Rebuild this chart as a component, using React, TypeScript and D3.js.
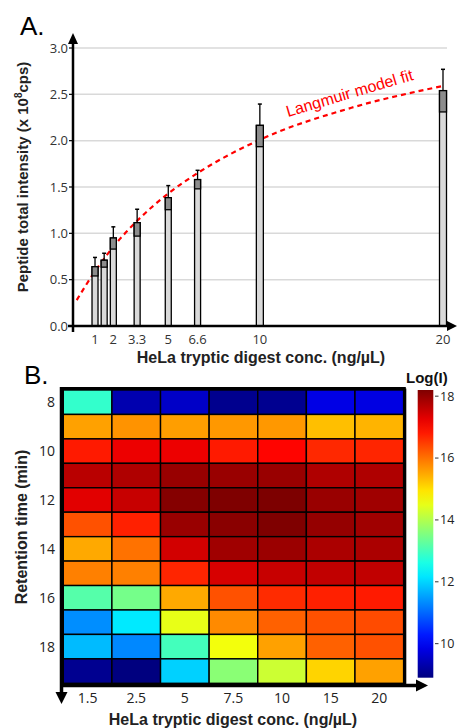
import React from 'react';
import * as d3 from 'd3';

// ---- Panel A data ----
const barConc = [1, 1.5, 2, 3.3, 5, 6.6, 10, 20];
const barMean = [0.64, 0.71, 0.95, 1.115, 1.385, 1.58, 2.165, 2.54];
const barErr = [0.1, 0.075, 0.12, 0.145, 0.13, 0.1, 0.23, 0.23];
const xTickVals = [1, 2, 3.3, 5, 6.6, 10, 20];
const xTickLabels = ['1', '2', '3.3', '5', '6.6', '10', '20'];
const yTickVals = [0, 0.5, 1, 1.5, 2, 2.5, 3];
const fitConc = [0, 1, 2, 3.3, 5, 6.6, 10, 15, 20];
const fitVal = [0.28, 0.59, 0.855, 1.135, 1.43, 1.65, 2.01, 2.355, 2.59];

// ---- Panel B data ----
const heatConc = ['1.5', '2.5', '5', '7.5', '10', '15', '20'];
const retTimes = [8, 9, 10, 11, 12, 13, 14, 15, 16, 17, 18, 19];
const retTickLabels = [8, 10, 12, 14, 16, 18];
const heatVals = [
  [12.85, 9.34, 9.55, 9.04, 9.05, 9.83, 9.8],
  [15.57, 15.7, 15.6, 15.65, 15.65, 15.3, 15.4],
  [16.8, 17.2, 17.2, 16.8, 17.0, 16.67, 16.7],
  [17.67, 17.76, 17.97, 17.96, 17.96, 17.76, 17.76],
  [17.3, 17.55, 18.15, 18.2, 18.22, 17.96, 17.9],
  [16.3, 16.75, 17.96, 18.1, 18.2, 18.0, 17.9],
  [15.5, 16.0, 17.45, 17.9, 17.95, 17.8, 17.8],
  [15.87, 15.87, 16.7, 17.4, 17.55, 17.6, 17.6],
  [13.16, 13.45, 15.5, 16.3, 16.65, 16.75, 16.8],
  [11.36, 12.2, 14.5, 15.78, 16.15, 16.3, 16.35],
  [11.77, 11.3, 13.0, 14.6, 15.57, 16.15, 16.3],
  [9.05, 8.9, 11.97, 13.65, 14.25, 15.1, 15.57],
];
const cbTicks = [10, 12, 14, 16, 18];
const cbDomain = [8.9, 18.2];

const jetPos = [0, 0.125, 0.375, 0.625, 0.875, 1];
const jetColors = ['#00007f', '#0000ff', '#00ffff', '#ffff00', '#ff0000', '#7f0000'];

const titleFont = 'Liberation Sans, Arial, sans-serif';
const tickFont = 'Open Sans, DejaVu Sans, sans-serif';

export default function App() {
  // Panel A scales
  const xA = d3.scaleLinear().domain([0, 20]).range([76.7, 443]);
  const yA = d3.scaleLinear().domain([0, 3]).range([326, 48]);
  const axX = 73;
  const axY = 326;
  const fitLine = d3
    .line<number>()
    .x((_, i) => xA(fitConc[i]))
    .y((d) => yA(d))
    .curve(d3.curveMonotoneX)(fitVal) as string;

  // Panel B scales
  const xH = d3.scaleBand<string>().domain(heatConc).range([63.3, 403.6]);
  const yH = d3.scaleBand<number>().domain(retTimes).range([390, 683.3]);
  const lo = cbDomain[0];
  const hi = cbDomain[1];
  const color = d3
    .scaleLinear<string>()
    .domain(jetPos.map((t) => lo + t * (hi - lo)))
    .range(jetColors)
    .interpolate(d3.interpolateRgb);
  const yC = d3.scaleLinear().domain(cbDomain).range([677.7, 390]);
  const gradStops = d3.range(0, 1.0001, 0.05);

  const hLeft = 61.5;
  const hTop = 388.5;
  const hRight = 404.8;
  const hBottom = 685.5;

  return (
    <svg
      width={457}
      height={728}
      style={{ position: 'absolute', left: 0, top: 0, background: '#fff' }}
    >
      <defs>
        <linearGradient id="cbGrad" x1="0" y1="1" x2="0" y2="0">
          {gradStops.map((t) => (
            <stop key={t} offset={t} stopColor={color(lo + t * (hi - lo))} />
          ))}
        </linearGradient>
      </defs>

      {/* ===== Panel A ===== */}
      <text x={20} y={35} fontFamily={titleFont} fontSize={26}>A.</text>

      {/* gridlines */}
      {yTickVals.slice(1).map((v) => (
        <line key={v} x1={axX} x2={447} y1={yA(v)} y2={yA(v)} stroke="#d9d9d9" strokeWidth={1.5} />
      ))}

      {/* fit curve */}
      <path d={fitLine} fill="none" stroke="#ff0000" strokeWidth={2.2} strokeDasharray="5,4" />
      <text
        transform={`translate(288,117) rotate(-16.5)`}
        fontFamily={titleFont}
        fontSize={16}
        fill="#ff0000"
      >
        Langmuir model fit
      </text>

      {/* bars */}
      {barConc.map((c, i) => {
        const w = c >= 10 ? 7 : 6;
        const x0 = xA(c) - w / 2;
        const top = yA(barMean[i]);
        const low = yA(barMean[i] - barErr[i]);
        const hiY = yA(barMean[i] + barErr[i]);
        return (
          <g key={c}>
            <rect x={x0} y={top} width={w} height={axY - top} fill="#d9d9d9" stroke="#000" strokeWidth={1.3} />
            <rect x={x0} y={top} width={w} height={low - top} fill="#8c8c8c" stroke="#000" strokeWidth={1.3} />
            <line x1={xA(c)} x2={xA(c)} y1={top} y2={hiY} stroke="#000" strokeWidth={1.3} />
            <line x1={xA(c) - 2} x2={xA(c) + 2} y1={hiY} y2={hiY} stroke="#000" strokeWidth={1.5} />
          </g>
        );
      })}

      {/* axes */}
      <line x1={axX} x2={axX} y1={axY + 6} y2={42} stroke="#000" strokeWidth={2.5} />
      <path d={`M${axX - 5},44 L${axX},33 L${axX + 5},44 Z`} fill="#000" />
      <line x1={axX - 5} x2={448} y1={axY} y2={axY} stroke="#000" strokeWidth={2.5} />
      <path d={`M447,${axY - 5} L457,${axY} L447,${axY + 5} Z`} fill="#000" />
      {yTickVals.map((v) => (
        <g key={v}>
          <line x1={axX - 4} x2={axX} y1={yA(v)} y2={yA(v)} stroke="#000" strokeWidth={1.2} />
          <text
            x={68}
            y={yA(v)}
            dy="0.35em"
            textAnchor="end"
            fontFamily={tickFont}
            fontSize={13}
            fill="#333"
          >
            {v.toFixed(1)}
          </text>
        </g>
      ))}
      {xTickVals.map((v, i) => (
        <text
          key={v}
          x={xA(v)}
          y={344}
          textAnchor="middle"
          fontFamily={tickFont}
          fontSize={13}
          fill="#333"
        >
          {xTickLabels[i]}
        </text>
      ))}
      <text
        x={261}
        y={363}
        textAnchor="middle"
        fontFamily={titleFont}
        fontWeight="bold"
        fontSize={16}
        fill="#222"
      >
        HeLa tryptic digest conc. (ng/µL)
      </text>
      <text
        transform={`translate(28,177) rotate(-90)`}
        textAnchor="middle"
        fontFamily={titleFont}
        fontWeight="bold"
        fontSize={15}
        fill="#222"
      >
        Peptide total intensity (x 10
        <tspan dy={-6} fontSize={10}>8</tspan>
        <tspan dy={6}>cps)</tspan>
      </text>

      {/* ===== Panel B ===== */}
      <text x={24} y={384} fontFamily={titleFont} fontSize={26}>B.</text>

      {heatVals.map((row, ri) =>
        row.map((v, ci) => (
          <rect
            key={`${ri}-${ci}`}
            x={xH(heatConc[ci])}
            y={yH(retTimes[ri])}
            width={xH.bandwidth()}
            height={yH.bandwidth()}
            fill={color(v)}
            stroke="#000"
            strokeWidth={1.4}
          />
        ))
      )}

      {/* frame & axes */}
      <line x1={hLeft} x2={hRight + 1} y1={hTop} y2={hTop} stroke="#000" strokeWidth={3} />
      <line x1={hRight} x2={hRight} y1={hTop} y2={hBottom} stroke="#000" strokeWidth={3} />
      <line x1={hLeft} x2={hLeft} y1={hTop - 1.5} y2={694} stroke="#000" strokeWidth={3.5} />
      <path d={`M${hLeft - 6},692 L${hLeft},704 L${hLeft + 6},692 Z`} fill="#000" />
      <line x1={hLeft} x2={418} y1={hBottom} y2={hBottom} stroke="#000" strokeWidth={3.5} />
      <path d={`M416,${hBottom - 6} L428,${hBottom} L416,${hBottom + 6} Z`} fill="#000" />

      {retTickLabels.map((t) => (
        <text
          key={t}
          x={55}
          y={(yH(t) as number) + yH.bandwidth() / 2}
          dy="0.35em"
          textAnchor="end"
          fontFamily={tickFont}
          fontSize={14}
          fill="#222"
        >
          {t}
        </text>
      ))}
      {heatConc.map((c) => (
        <text
          key={c}
          x={(xH(c) as number) + xH.bandwidth() / 2}
          y={703}
          textAnchor="middle"
          fontFamily={tickFont}
          fontSize={14}
          fill="#222"
        >
          {c}
        </text>
      ))}
      <text
        x={233}
        y={725}
        textAnchor="middle"
        fontFamily={titleFont}
        fontWeight="bold"
        fontSize={16}
        fill="#222"
      >
        HeLa tryptic digest conc. (ng/µL)
      </text>
      <text
        transform={`translate(27,527) rotate(-90)`}
        textAnchor="middle"
        fontFamily={titleFont}
        fontWeight="bold"
        fontSize={16}
        fill="#222"
      >
        Retention time (min)
      </text>

      {/* colorbar */}
      <rect x={417.7} y={390} width={15.6} height={287.7} fill="url(#cbGrad)" />
      <text x={406} y={383} fontFamily={titleFont} fontWeight="bold" fontSize={15} fill="#111">
        Log(I)
      </text>
      {cbTicks.map((t) => (
        <g key={t}>
          <line x1={435} x2={438.5} y1={yC(t)} y2={yC(t)} stroke="#333" strokeWidth={1} />
          <text
            x={440}
            y={yC(t)}
            dy="0.35em"
            fontFamily={tickFont}
            fontSize={12.5}
            fill="#222"
          >
            {t}
          </text>
        </g>
      ))}
    </svg>
  );
}
